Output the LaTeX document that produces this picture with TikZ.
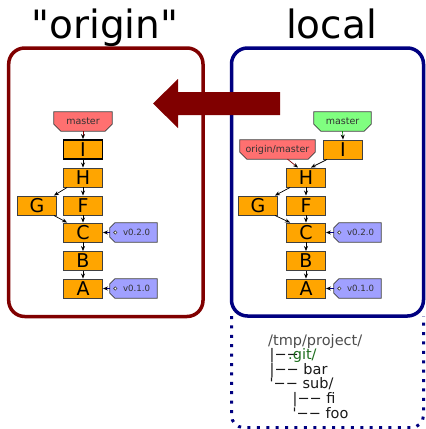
\documentclass[tikz,border=0pt]{standalone}
\usepackage{fontspec}
\setmainfont{DejaVu Sans}
\newfontfamily\plainfont{DejaVu Sans}
\usetikzlibrary{arrows.meta,backgrounds}
\definecolor{boxred}{HTML}{800000}
\definecolor{boxblue}{HTML}{000080}
\definecolor{commitfill}{HTML}{FFA500}
\definecolor{branchred}{HTML}{FF7070}
\definecolor{branchgreen}{HTML}{80FF80}
\definecolor{tagfill}{HTML}{A0A0FF}
\definecolor{gitgreen}{HTML}{1E6E1E}
\definecolor{linkgreen}{HTML}{108010}
\tikzset{
  commit/.style={draw=black!75, line width=0.9pt, fill=commitfill, minimum width=39pt, minimum height=19pt, inner sep=0pt, font=\fontsize{19}{19}\selectfont},
  headcommit/.style={commit, draw=black, line width=1.8pt},
  branch/.style={minimum height=19pt, inner sep=0pt, text=black!80, font=\fontsize{9.5}{9.5}\selectfont},
  vtag/.style={minimum width=47pt, minimum height=19pt, inner sep=0pt, text=black!80, font=\fontsize{8.6}{8.6}\selectfont},
  tagoutline/.style={draw=black!75, line width=0.8pt},
  edge/.style={-{Stealth[length=5pt,width=4pt,color=black]}, line width=0.7pt, black},
  frame/.style={line width=3.5pt, rounded corners=16pt},
  title/.style={font=\plainfont\fontsize{39}{39}\selectfont, anchor=base},
  treetext/.style={font=\plainfont\fontsize{14.5}{14.5}\selectfont, text=black!90, anchor=base west, inner sep=0pt},
}
\newcommand{\branchshape}[2]{%
  \begin{scope}[on background layer]
  \path[tagoutline, fill=#2] (#1.north west) -- (#1.north east) -- ([yshift=7pt]#1.south east) -- ([xshift=-7pt]#1.south east) -- ([xshift=7pt]#1.south west) -- ([yshift=7pt]#1.south west) -- cycle;
  \end{scope}}
\newcommand{\vtagshape}[1]{%
  \begin{scope}[on background layer]
  \path[tagoutline, fill=tagfill] ([xshift=5pt]#1.north west) -- (#1.north east) -- (#1.south east) -- ([xshift=5pt]#1.south west) -- ([yshift=5pt]#1.south west) -- ([yshift=-5pt]#1.north west) -- cycle;
  \path[draw=black!75, line width=0.6pt, fill=white] ([xshift=5.5pt]#1.west) circle[radius=1.7pt];
  \end{scope}}
\begin{document}
\begin{tikzpicture}[x=1pt,y=-1pt]
\useasboundingbox (0,0) rectangle (426,429);

% frames
\draw[boxblue, line width=3pt, line cap=butt, dash pattern=on 3pt off 6.4pt, rounded corners=12pt] (231.5,316) -- (231.5,427.5) -- (423.5,427.5) -- (423.5,316);
\draw[frame, boxred] (8.7,48) rectangle (203,316.5);
\draw[frame, boxblue] (231.5,48) rectangle (423.5,316);

% titles
\node[title] (torigin) at (105,38) {"origin"};
\node[title] (tlocal) at (331.5,38) {local};

% big arrow
\fill[boxred] (280,92) -- (178,92) -- (178,79) -- (153,103.5) -- (178,128) -- (178,115) -- (280,115) -- cycle;

% ---------- origin ----------
\node[branch, minimum width=58pt] (mL) at (83,121.5) {master};
\branchshape{mL}{branchred}
\node[headcommit] (IL) at (83,149.5) {I};
\node[commit] (HL) at (83,177.5) {H};
\node[commit] (GL) at (37,205.5) {G};
\node[commit] (FL) at (83,205.5) {F};
\node[commit] (CL) at (83,232.5) {C};
\node[commit] (BL) at (83,261) {B};
\node[commit] (AL) at (83,288.5) {A};
\node[vtag] (v2L) at (133.5,232.5) {\hspace{6pt}v0.2.0};
\vtagshape{v2L}
\node[vtag] (v1L) at (133.5,288.5) {\hspace{6pt}v0.1.0};
\vtagshape{v1L}

\draw[edge, draw=boxred] (mL.south) -- (IL.north);
\draw[edge] (IL) -- (HL);
\draw[edge] ([xshift=4pt]HL.south west) -- ([xshift=-3pt]GL.north east);
\draw[edge] (HL) -- (FL);
\draw[edge] ([xshift=-3pt]GL.south east) -- ([xshift=4pt]CL.north west);
\draw[edge] (FL) -- (CL);
\draw[edge] (CL) -- (BL);
\draw[edge] (BL) -- (AL);
\draw[edge, draw=boxblue] (v2L.west) -- (CL.east);
\draw[edge, draw=boxblue] (v1L.west) -- (AL.east);

% ---------- local ----------
\node[branch, minimum width=57pt] (mR) at (342.5,121.5) {master};
\branchshape{mR}{branchgreen}
\node[branch, minimum width=75pt] (oR) at (277.5,149.5) {origin/master};
\branchshape{oR}{branchred}
\node[commit] (IR) at (343,149.5) {I};
\node[commit] (HR) at (306,177.5) {H};
\node[commit] (GR) at (258,205.5) {G};
\node[commit] (FR) at (306,205.5) {F};
\node[commit] (CR) at (306,232.5) {C};
\node[commit] (BR) at (306,261) {B};
\node[commit] (AR) at (306,288.5) {A};
\node[vtag] (v2R) at (357.5,232.5) {\hspace{6pt}v0.2.0};
\vtagshape{v2R}
\node[vtag] (v1R) at (357.5,288.5) {\hspace{6pt}v0.1.0};
\vtagshape{v1R}

\draw[edge, draw=linkgreen] (mR.south) -- (IR.north);
\draw[edge] ([xshift=4pt]IR.south west) -- ([xshift=-15pt]HR.north east);
\draw[edge, draw=boxred] ([xshift=10pt]oR.south) -- ([xshift=-8pt]HR.north);
\draw[edge] ([xshift=4pt]HR.south west) -- ([xshift=-3pt]GR.north east);
\draw[edge] (HR) -- (FR);
\draw[edge] ([xshift=-3pt]GR.south east) -- ([xshift=4pt]CR.north west);
\draw[edge] (FR) -- (CR);
\draw[edge] (CR) -- (BR);
\draw[edge] (BR) -- (AR);
\draw[edge, draw=boxblue] (v2R.west) -- (CR.east);
\draw[edge, draw=boxblue] (v1R.west) -- (AR.east);

% ---------- working tree ----------
\node[treetext, text=black!70] (t0) at (268,345) {/tmp/project/};
\node[treetext] (t1) at (269.5,359.6) {|−−};
\node[treetext, text=gitgreen] (t1b) at (288,359.6) {.git/};
\node[treetext] (t2) at (269.5,374.2) {|−− bar};
\node[treetext] (t3) at (269.5,388.8) {'−− sub/};
\node[treetext] (t4) at (292.5,403.4) {|−− fi};
\node[treetext] (t5) at (292.5,418) {'−− foo};
\end{tikzpicture}
\end{document}
